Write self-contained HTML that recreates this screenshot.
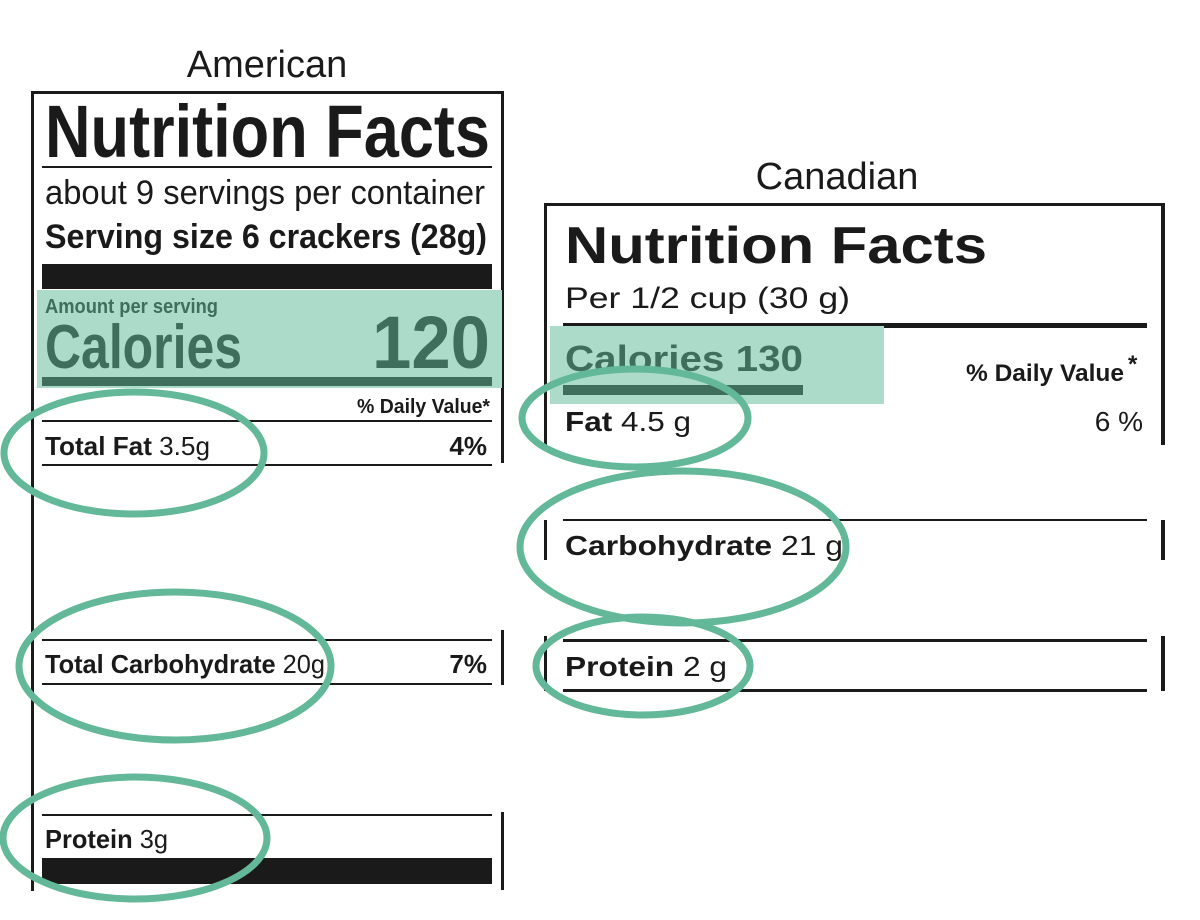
<!DOCTYPE html>
<html><head><meta charset="utf-8"><style>
html,body{margin:0;padding:0;background:#fff;width:1200px;height:920px;overflow:hidden}
svg{display:block}
text{font-family:"Liberation Sans",sans-serif;fill:#1a1a1a}
</style></head><body>
<svg width="1200" height="920" viewBox="0 0 1200 920">
<!-- American -->
<g>
<text x="267" y="77" font-size="38" text-anchor="middle">American</text>
<rect x="31" y="91" width="473" height="3" fill="#1a1a1a"/>
<rect x="31" y="91" width="3" height="800" fill="#1a1a1a"/>
<rect x="501" y="91" width="3" height="372" fill="#1a1a1a"/>
<rect x="501" y="630" width="3" height="55" fill="#1a1a1a"/>
<rect x="501" y="812" width="3" height="78" fill="#1a1a1a"/>
<text x="45" y="157" font-size="74" font-weight="bold" textLength="445" lengthAdjust="spacingAndGlyphs">Nutrition Facts</text>
<rect x="42" y="166" width="450" height="2" fill="#1a1a1a"/>
<text x="45" y="204" font-size="34" textLength="440" lengthAdjust="spacingAndGlyphs">about 9 servings per container</text>
<text x="45" y="248" font-size="34" font-weight="bold" textLength="442" lengthAdjust="spacingAndGlyphs">Serving size  6 crackers (28g)</text>
<rect x="42" y="264" width="450" height="25" fill="#1a1a1a"/>
<rect x="37" y="290" width="465" height="98" fill="#acdcc9"/>
<text x="45" y="313" font-size="20" font-weight="bold" fill="#3f6e5c" style="fill:#3f6e5c" textLength="173" lengthAdjust="spacingAndGlyphs">Amount per serving</text>
<text x="45" y="368" font-size="62" font-weight="bold" style="fill:#3f6e5c" textLength="197" lengthAdjust="spacingAndGlyphs">Calories</text>
<text x="372" y="368" font-size="74" font-weight="bold" style="fill:#3f6e5c" textLength="118" lengthAdjust="spacingAndGlyphs">120</text>
<rect x="42" y="377" width="450" height="9" fill="#3f6e5c"/>
<text x="490" y="413" font-size="20" font-weight="bold" text-anchor="end" textLength="133" lengthAdjust="spacingAndGlyphs">% Daily Value*</text>
<rect x="42" y="420" width="450" height="2" fill="#1a1a1a"/>
<text x="45" y="455" font-size="26" textLength="165" lengthAdjust="spacingAndGlyphs"><tspan font-weight="bold">Total Fat</tspan> 3.5g</text>
<text x="487" y="455" font-size="26" font-weight="bold" text-anchor="end">4%</text>
<rect x="42" y="464" width="450" height="2" fill="#1a1a1a"/>
<rect x="42" y="639" width="450" height="2" fill="#1a1a1a"/>
<text x="45" y="673" font-size="26" textLength="280" lengthAdjust="spacingAndGlyphs"><tspan font-weight="bold">Total Carbohydrate</tspan> 20g</text>
<text x="487" y="673" font-size="26" font-weight="bold" text-anchor="end">7%</text>
<rect x="42" y="683" width="450" height="2" fill="#1a1a1a"/>
<rect x="42" y="814" width="450" height="2" fill="#1a1a1a"/>
<text x="45" y="848" font-size="26" textLength="123" lengthAdjust="spacingAndGlyphs"><tspan font-weight="bold">Protein</tspan> 3g</text>
<rect x="42" y="858" width="450" height="26" fill="#1a1a1a"/>
</g>
<!-- Canadian -->
<g>
<text x="837" y="189" font-size="38" text-anchor="middle">Canadian</text>
<rect x="544" y="203" width="621" height="3" fill="#1a1a1a"/>
<rect x="544" y="203" width="3" height="245" fill="#1a1a1a"/>
<rect x="544" y="520" width="3" height="40" fill="#1a1a1a"/>
<rect x="544" y="636" width="3" height="55" fill="#1a1a1a"/>
<rect x="1161" y="203" width="4" height="242" fill="#1a1a1a"/>
<rect x="1161" y="520" width="4" height="40" fill="#1a1a1a"/>
<rect x="1161" y="636" width="4" height="55" fill="#1a1a1a"/>
<text x="565" y="263" font-size="52" font-weight="bold" textLength="422" lengthAdjust="spacingAndGlyphs">Nutrition Facts</text>
<text x="565" y="308" font-size="30" textLength="285" lengthAdjust="spacingAndGlyphs">Per 1/2 cup (30 g)</text>
<rect x="563" y="323" width="584" height="5" fill="#1a1a1a"/>
<rect x="550" y="326" width="334" height="78" fill="#acdcc9"/>
<text x="565" y="371" font-size="36" font-weight="bold" style="fill:#3f6e5c" textLength="238" lengthAdjust="spacingAndGlyphs">Calories 130</text>
<rect x="563" y="385" width="240" height="10" fill="#3f6e5c"/>
<text x="1124" y="381" font-size="24" font-weight="bold" text-anchor="end" textLength="158" lengthAdjust="spacingAndGlyphs">% Daily Value</text>
<text x="1128" y="372" font-size="24" font-weight="bold">*</text>
<text x="565" y="431" font-size="28" textLength="126" lengthAdjust="spacingAndGlyphs"><tspan font-weight="bold">Fat</tspan> 4.5 g</text>
<text x="1143" y="431" font-size="28" text-anchor="end">6 %</text>
<rect x="563" y="519" width="584" height="2" fill="#1a1a1a"/>
<text x="565" y="555" font-size="28" textLength="278" lengthAdjust="spacingAndGlyphs"><tspan font-weight="bold">Carbohydrate</tspan> 21 g</text>
<rect x="563" y="639" width="584" height="3" fill="#1a1a1a"/>
<text x="565" y="676" font-size="28" textLength="162" lengthAdjust="spacingAndGlyphs"><tspan font-weight="bold">Protein</tspan> 2 g</text>
<rect x="563" y="689" width="584" height="3" fill="#1a1a1a"/>
</g>
<!-- circles -->
<g fill="none" stroke="#62b899" stroke-width="7">
<ellipse cx="134" cy="453" rx="130" ry="61"/>
<ellipse cx="175" cy="666" rx="156" ry="74"/>
<ellipse cx="135" cy="838" rx="132" ry="61"/>
<ellipse cx="635" cy="418" rx="113" ry="49"/>
<ellipse cx="683" cy="547" rx="163" ry="76"/>
<ellipse cx="643" cy="666" rx="107" ry="49"/>
</g>
</svg>
</body></html>
